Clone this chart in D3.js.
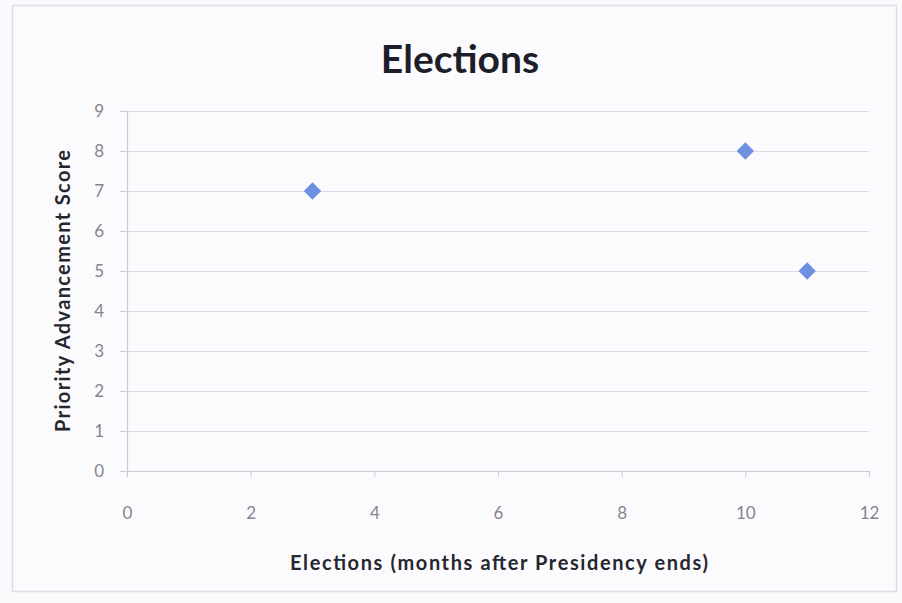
<!DOCTYPE html>
<html>
<head>
<meta charset="utf-8">
<script src="https://cdn.jsdelivr.net/npm/d3@7"></script>
<style>
  html, body { margin: 0; padding: 0; background: #fafafd; }
  svg { display: block; }
</style>
</head>
<body>
<svg id="chart" width="902" height="603"></svg>
<script>
// Election timing vs. priority advancement score
const monthsAfter = [3, 10, 11];
const advancementScore = [7, 8, 5];
const xTicks = [0, 2, 4, 6, 8, 10, 12];
const yTicks = [0, 1, 2, 3, 4, 5, 6, 7, 8, 9];

const chartTitle = "Elections";
const xTitle = "Elections (months after Presidency ends)";
const yTitle = "Priority Advancement Score";

const svg = d3.select("#chart");
const W = 902, H = 603;
const margin = { left: 127, right: 33, top: 111, bottom: 132 };

const font = "Lato, 'Open Sans', sans-serif";

// chart frame
svg.append("rect")
  .attr("x", 12.5).attr("y", 5.5)
  .attr("width", 884).attr("height", 586)
  .attr("fill", "#fbfbfe")
  .attr("stroke", "#dcdde6")
  .attr("stroke-width", 1.5);

const x = d3.scaleLinear().domain([0, 12]).range([margin.left, W - margin.right]);
const y = d3.scaleLinear().domain([0, 9]).range([H - margin.bottom, margin.top]);

// horizontal gridlines
svg.append("g")
  .selectAll("line")
  .data(yTicks.filter(d => d > 0))
  .join("line")
  .attr("x1", x(0)).attr("x2", x(12))
  .attr("y1", d => Math.round(y(d)) + 0.5)
  .attr("y2", d => Math.round(y(d)) + 0.5)
  .attr("stroke", "#d9dbe6")
  .attr("stroke-width", 1.2);

// y axis
const yAxis = svg.append("g")
  .attr("transform", `translate(${x(0)},0)`)
  .call(d3.axisLeft(y).tickValues(yTicks).tickSize(7).tickPadding(16));
yAxis.select(".domain").attr("stroke", "#c9cbd8").attr("stroke-width", 1.2);
yAxis.selectAll(".tick line").attr("stroke", "#c9cbd8");
yAxis.selectAll(".tick text")
  .attr("fill", "#85858c")
  .style("font-family", font)
  .style("font-size", "17px");

// x axis
const xAxis = svg.append("g")
  .attr("transform", `translate(0,${y(0)})`)
  .call(d3.axisBottom(x).tickValues(xTicks).tickSize(6).tickPadding(30));
xAxis.select(".domain").attr("stroke", "#c9cbd8").attr("stroke-width", 1.2);
xAxis.selectAll(".tick line").attr("stroke", "#c9cbd8");
xAxis.selectAll(".tick text")
  .attr("fill", "#85858c")
  .style("font-family", font)
  .style("font-size", "17px");

// data points as diamonds (squares turned 45°)
const diamond = d3.symbol().type(d3.symbolSquare).size(150);
svg.append("g")
  .selectAll("path")
  .data(monthsAfter.map((m, i) => ({ m, s: advancementScore[i] })))
  .join("path")
  .attr("d", diamond)
  .attr("transform", d => `translate(${x(d.m)},${y(d.s)}) rotate(45)`)
  .attr("fill", "#6f8fe3");

// title
svg.append("text")
  .attr("x", 460).attr("y", 73)
  .attr("text-anchor", "middle")
  .style("font-family", font)
  .style("font-weight", "bold")
  .style("font-size", "39px")
  .attr("fill", "#1e1e2a")
  .text(chartTitle);

// x axis title
svg.append("text")
  .attr("x", 499).attr("y", 570)
  .attr("text-anchor", "middle")
  .attr("textLength", 418)
  .attr("lengthAdjust", "spacing")
  .style("font-family", font)
  .style("font-weight", "bold")
  .style("font-size", "20px")
  .attr("fill", "#26262e")
  .text(xTitle);

// y axis title
svg.append("text")
  .attr("transform", `translate(70,291) rotate(-90)`)
  .attr("text-anchor", "middle")
  .attr("textLength", 282)
  .attr("lengthAdjust", "spacing")
  .style("font-family", font)
  .style("font-weight", "bold")
  .style("font-size", "20px")
  .attr("fill", "#26262e")
  .text(yTitle);
</script>
</body>
</html>
